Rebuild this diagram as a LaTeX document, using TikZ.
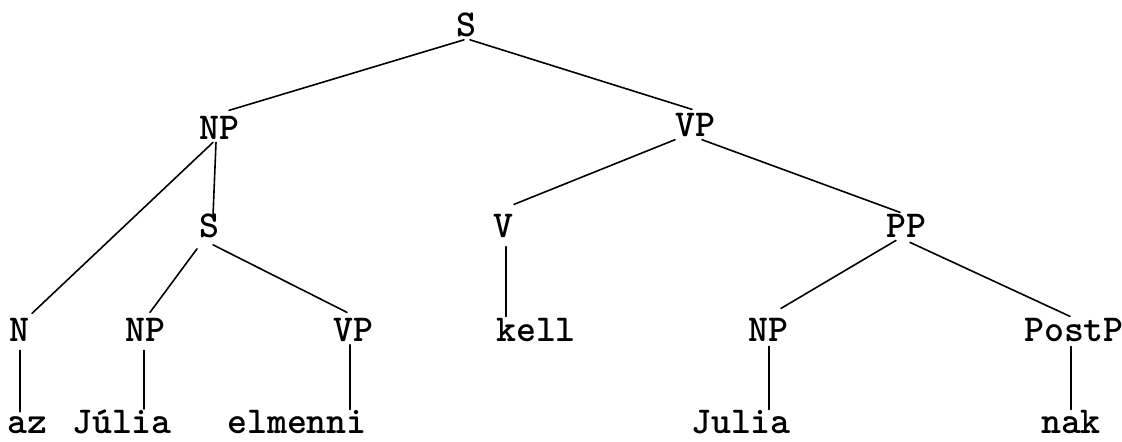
\documentclass[tikz,border=0pt]{standalone}
\begin{document}
\begin{tikzpicture}[x=0.5pt,y=-0.5pt,
  lbl/.style={font=\fontsize{19}{22}\selectfont\ttfamily\bfseries, anchor=base, inner sep=1pt},
  branch/.style={line width=0.8pt, line cap=round}]
\useasboundingbox (0,0) rectangle (1122,442);
% level 1
\node[lbl] (S1) at (466,37) {S};
% level 2
\node[lbl] (NP1) at (219,140) {NP};
\node[lbl] (VP1) at (695,137) {VP};
% level 3
\node[lbl] (S2) at (209,238) {S};
\node[lbl] (V) at (503,238) {V};
\node[lbl] (PP) at (906,238) {PP};
% level 4
\node[lbl] (N) at (19,342) {N};
\node[lbl] (NP2) at (145,342) {NP};
\node[lbl] (VP2) at (353,342) {VP};
\node[lbl] (kell) at (536,342) {kell};
\node[lbl] (NP3) at (768,342) {NP};
\node[lbl] (PostP) at (1074,342) {PostP};
% leaves
\node[lbl] (az) at (27,433) {az};
\node[lbl] (Julia1) at (122,433) {J\'ulia};
\node[lbl] (elmenni) at (297,433) {elmenni};
\node[lbl] (Julia2) at (741,433) {Julia};
\node[lbl] (nak) at (1071,433) {nak};
% connectors
\draw[branch] ([xshift=-1pt]S1.south) -- ([xshift=5pt,yshift=2pt]NP1.north);
\draw[branch] ([xshift=2pt]S1.south) -- ([xshift=-1.5pt,yshift=1pt]VP1.north);
\draw[branch] ([xshift=-3pt]NP1.south) -- ([xshift=6.5pt,yshift=1.5pt]N.north);
\draw[branch] ([xshift=-1.5pt]NP1.south) -- ([xshift=2pt,yshift=-2pt]S2.north);
\draw[branch] ([xshift=-6pt,yshift=-4pt]S2.south) -- ([xshift=2.5pt,yshift=2pt]NP2.north);
\draw[branch] ([xshift=2pt,yshift=-2pt]S2.south) -- ([xshift=-3pt,yshift=2pt]VP2.north);
\draw[branch] ([xshift=-10pt]VP1.south) -- ([xshift=5.5pt,yshift=4pt]V.north);
\draw[branch] ([xshift=3.5pt]VP1.south) -- ([xshift=-3pt]PP.north);
\draw[branch] ([xshift=1.5pt,yshift=-3pt]V.south) -- ([xshift=-15pt]kell.north);
\draw[branch] ([xshift=-5pt]PP.south) -- ([xshift=6.5pt,yshift=4pt]NP3.north);
\draw[branch] ([xshift=2pt,yshift=-1pt]PP.south) -- ([xshift=-2pt]PostP.north);
\draw[branch] ([xshift=0.5pt,yshift=-3pt]N.south) -- ([xshift=-3.5pt,yshift=1pt]az.north);
\draw[branch] ([xshift=-0.5pt,yshift=-3pt]NP2.south) -- ([xshift=11pt,yshift=-1pt]Julia1.north);
\draw[branch] ([xshift=-1.5pt]VP2.south) -- ([xshift=26.5pt,yshift=-1pt]elmenni.north);
\draw[branch] ([xshift=0.5pt,yshift=-1pt]NP3.south) -- ([xshift=14pt,yshift=-1pt]Julia2.north);
\draw[branch] ([xshift=-1.5pt,yshift=-1pt]PostP.south) -- ([yshift=-1pt]nak.north);
\end{tikzpicture}
\end{document}
